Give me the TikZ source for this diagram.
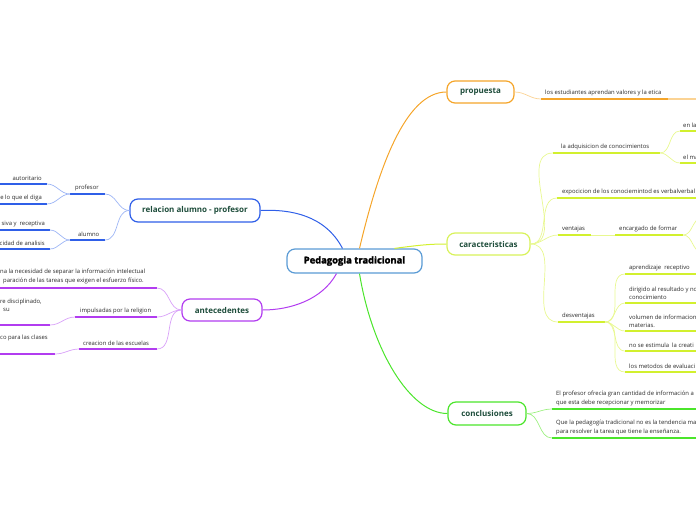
\documentclass[tikz,border=0pt]{standalone}
\usepackage{fontspec}
\setmainfont{Open Sans}
\newfontfamily\heavyfont[FakeBold=2.4]{Open Sans}
\usetikzlibrary{calc}
\definecolor{cBlue}{HTML}{2F5FE8}
\definecolor{cBlueL}{HTML}{9DB5F5}
\definecolor{cPurple}{HTML}{B23CF0}
\definecolor{cPurpleL}{HTML}{D8A0F8}
\definecolor{cOrange}{HTML}{F5A52A}
\definecolor{cOrangeL}{HTML}{FBD394}
\definecolor{cLime}{HTML}{D2F02E}
\definecolor{cLimeB}{HTML}{D8F25A}
\definecolor{cLimeL}{HTML}{E8F890}
\definecolor{cGreen}{HTML}{4BE52B}
\definecolor{cGreenL}{HTML}{9CF080}
\definecolor{cCentral}{HTML}{5A9BD5}
\definecolor{cText}{HTML}{1E4D3B}
\definecolor{cLeaf}{HTML}{2A2A2A}
\newcommand\leaffont{\fontsize{5.9}{8.4}\selectfont}
\begin{document}
\begin{tikzpicture}[x=1pt,y=-1pt,
  mainbox/.style={draw, rounded corners=8pt, line width=1.2pt, fill=white,
    font=\fontsize{8}{9}\selectfont\bfseries, text=cText, inner sep=0pt},
  leafL/.style={font=\leaffont, text=cLeaf, inner sep=0pt, anchor=south west, align=left},
  leafR/.style={font=\leaffont, text=cLeaf, inner sep=0pt, anchor=south east, align=left},
  uline/.style={line width=1.8pt},
  conn/.style={line width=0.7pt},
  mainconn/.style={line width=1pt}]
\useasboundingbox (0,0) rectangle (696,520);

% ---------- main boxes ----------
\node[mainbox, draw=cCentral, minimum width=135pt, minimum height=24pt,
  font=\fontsize{9.4}{10}\selectfont\heavyfont\bfseries, text=black] (central) at (354.5,261) {Pedagogia tradicional};
\node[mainbox, draw=cOrange, minimum width=67pt, minimum height=22pt] (prop) at (480.5,92) {propuesta};
\node[mainbox, draw=cLimeB, minimum width=83pt, minimum height=22pt] (car) at (488.5,244) {caracteristicas};
\node[mainbox, draw=cGreen, minimum width=78pt, minimum height=23pt] (con) at (487,413.5) {conclusiones};
\node[mainbox, draw=cBlue, minimum width=130pt, minimum height=23pt] (rel) at (195,210.5) {relacion alumno - profesor};
\node[mainbox, draw=cPurple, minimum width=80pt, minimum height=22pt] (ant) at (222,310) {antecedentes};

% ---------- main connectors ----------
\draw[cOrange, mainconn] ($(central.north)+(5,0)$) .. controls (378,170) and (405,92) .. (prop.west);
\draw[cLime, mainconn] ($(central.north)+(40,0)$) .. controls (420,245) and (430,244) .. (car.west);
\draw[cGreen, mainconn] ($(central.south)+(5,0)$) .. controls (372,350) and (410,413.5) .. (con.west);
\draw[cBlue, mainconn] ($(central.north)+(-12,0)$) .. controls (325,215) and (290,209) .. (rel.east);
\draw[cPurple, mainconn] ($(central.south)+(-18,0)$) .. controls (322,300) and (290,310) .. (ant.east);

% ---------- propuesta ----------
\coordinate (pa1) at (541,99); \coordinate (pa2) at (668,99); \coordinate (pa3) at (700,99);
\draw[cOrange, uline] (pa1) -- (pa2);
\draw[cOrangeL, line width=1.2pt] (pa2) -- (pa3);
\node[leafL] (pt1) at (545,96) {los estudiantes aprendan valores y la etica};
\draw[cOrangeL, conn] (prop.east) to[out=0,in=180] (pa1);

% ---------- caracteristicas ----------
\coordinate (ad1) at (553,153); \coordinate (ad2) at (660,153);
\coordinate (en1) at (680,131); \coordinate (en2) at (700,131);
\coordinate (em1) at (680,163); \coordinate (em2) at (700,163);
\coordinate (ex1) at (557,198); \coordinate (ex2) at (700,198);
\coordinate (ve1) at (558,235); \coordinate (ve2) at (591,235);
\coordinate (ec1) at (615,235); \coordinate (ec2) at (683,235);
\coordinate (eo1) at (702,218); \coordinate (eo2) at (702,252);
\coordinate (de1) at (558,322); \coordinate (de2) at (605,322);
\coordinate (d11) at (625,274); \coordinate (d12) at (700,274);
\coordinate (d21) at (625,303); \coordinate (d22) at (700,303);
\coordinate (d31) at (625,331); \coordinate (d32) at (700,331);
\coordinate (d41) at (625,351); \coordinate (d42) at (700,351);
\coordinate (d51) at (625,372); \coordinate (d52) at (700,372);

\foreach \a/\b in {ad1/ad2,en1/en2,em1/em2,ex1/ex2,ve1/ve2,ec1/ec2,de1/de2,d11/d12,d21/d22,d31/d32,d41/d42,d51/d52}
  \draw[cLime, uline] (\a) -- (\b);

\foreach \t in {ad1,ex1,ve1,de1}
  \draw[cLimeL, conn] (car.east) to[out=0,in=180] (\t);
\draw[cLimeL, conn] (ad2) to[out=0,in=180] (en1);
\draw[cLimeL, conn] (ad2) to[out=0,in=180] (em1);
\draw[cLimeL, conn] (ve2) -- (ec1);
\draw[cLimeL, conn] (ec2) to[out=0,in=180] (eo1);
\draw[cLimeL, conn] (ec2) to[out=0,in=180] (eo2);
\foreach \t in {d11,d21,d31,d41,d51}
  \draw[cLimeL, conn] (de2) to[out=0,in=180] (\t);

\node[leafL] (tad) at (561,150) {la adquisicion de conocimientos};
\node[leafL] (ten) at (683,128) {en la};
\node[leafL] (tem) at (683,160) {el ma};
\node[leafL] (tex) at (562,195) {expocicion de los conociemintod es verbalverbal};
\node[leafL] (tve) at (562,232) {ventajas};
\node[leafL] (tec) at (619,232) {encargado de formar};
\node[leafL] (tde) at (562,319) {desventajas};
\node[leafL] (td1) at (629,271) {aprendizaje \ receptivo};
\node[leafL] (td2) at (629,300) {dirigido al resultado y no\\conocimiento};
\node[leafL] (td3) at (629,328) {volumen de informacion\\materias.};
\node[leafL] (td4) at (629,348) {no se estimula \ la creati};
\node[leafL] (td5) at (629,369) {los metodos de evaluaci};

% ---------- conclusiones ----------
\coordinate (c11) at (552,409); \coordinate (c12) at (700,409);
\coordinate (c21) at (552,438); \coordinate (c22) at (700,438);
\draw[cGreen, uline] (c11) -- (c12);
\draw[cGreen, uline] (c21) -- (c22);
\draw[cGreenL, conn] (con.east) to[out=0,in=180] (c11);
\draw[cGreenL, conn] (con.east) to[out=0,in=180] (c21);
\node[leafL] (tc1) at (556,406) {El profesor ofrecía gran cantidad de información a\\que esta debe recepcionar y memorizar};
\node[leafL] (tc2) at (556,435) {Que la pedagogía tradicional no es la tendencia ma\\para resolver la tarea que tiene la enseñanza.};

% ---------- relacion alumno - profesor ----------
\coordinate (pr1) at (70,194); \coordinate (pr2) at (105,194);
\coordinate (al1) at (70,240); \coordinate (al2) at (105,240);
\coordinate (au1) at (-5,184); \coordinate (au2) at (47,184);
\coordinate (dg1) at (-5,204); \coordinate (dg2) at (47,204);
\coordinate (sv1) at (-5,230); \coordinate (sv2) at (50,230);
\coordinate (cd1) at (-5,249); \coordinate (cd2) at (50,249);
\foreach \a/\b in {pr1/pr2,al1/al2,au1/au2,dg1/dg2,sv1/sv2,cd1/cd2}
  \draw[cBlue, uline] (\a) -- (\b);
\draw[cBlueL, conn] (rel.west) to[out=180,in=0] (pr2);
\draw[cBlueL, conn] (rel.west) to[out=180,in=0] (al2);
\draw[cBlueL, conn] (pr1) to[out=180,in=0] (au2);
\draw[cBlueL, conn] (pr1) to[out=180,in=0] (dg2);
\draw[cBlueL, conn] (al1) to[out=180,in=0] (sv2);
\draw[cBlueL, conn] (al1) to[out=180,in=0] (cd2);
\node[leafL] (tpr) at (75,191) {profesor};
\node[leafL] (tal) at (78,237) {alumno};
\node[leafR] (tau) at (42,181) {autoritario};
\node[leafR] (tdg) at (42,201) {e lo que el diga};
\node[leafR] (tsv) at (45,227) {siva y \ receptiva};
\node[leafR] (tcd) at (45,246) {cidad de analisis};

% ---------- antecedentes ----------
\coordinate (a11) at (-5,288); \coordinate (a12) at (157,288);
\coordinate (a21) at (75,317); \coordinate (a22) at (157,317);
\coordinate (a31) at (79,349); \coordinate (a32) at (157,349);
\coordinate (b21) at (-5,325); \coordinate (b22) at (50,325);
\coordinate (b31) at (-5,354); \coordinate (b32) at (55,354);
\foreach \a/\b in {a11/a12,a21/a22,a31/a32,b21/b22,b31/b32}
  \draw[cPurple, uline] (\a) -- (\b);
\draw[cPurpleL, conn] (ant.west) to[out=180,in=0] (a12);
\draw[cPurpleL, conn] (ant.west) to[out=180,in=0] (a22);
\draw[cPurpleL, conn] (ant.west) to[out=180,in=0] (a32);
\draw[cPurpleL, conn] (a21) to[out=180,in=0] (b22);
\draw[cPurpleL, conn] (a31) to[out=180,in=0] (b32);
\node[leafL] (ta1) at (0,284) {na la necesidad de separar la información intelectual\\\hspace*{3pt}paración de las tareas que exigen el esfuerzo físico.};
\node[leafL] (ta2) at (80,314) {impulsadas por la religion};
\node[leafL] (ta3) at (83,346) {creacion de las escuelas};
\node[leafL] (tb2) at (0,312) {re disciplinado,\\\hspace*{3pt}su};
\node[leafL] (tb3) at (0,341) {co para las clases};
\end{tikzpicture}
\end{document}
